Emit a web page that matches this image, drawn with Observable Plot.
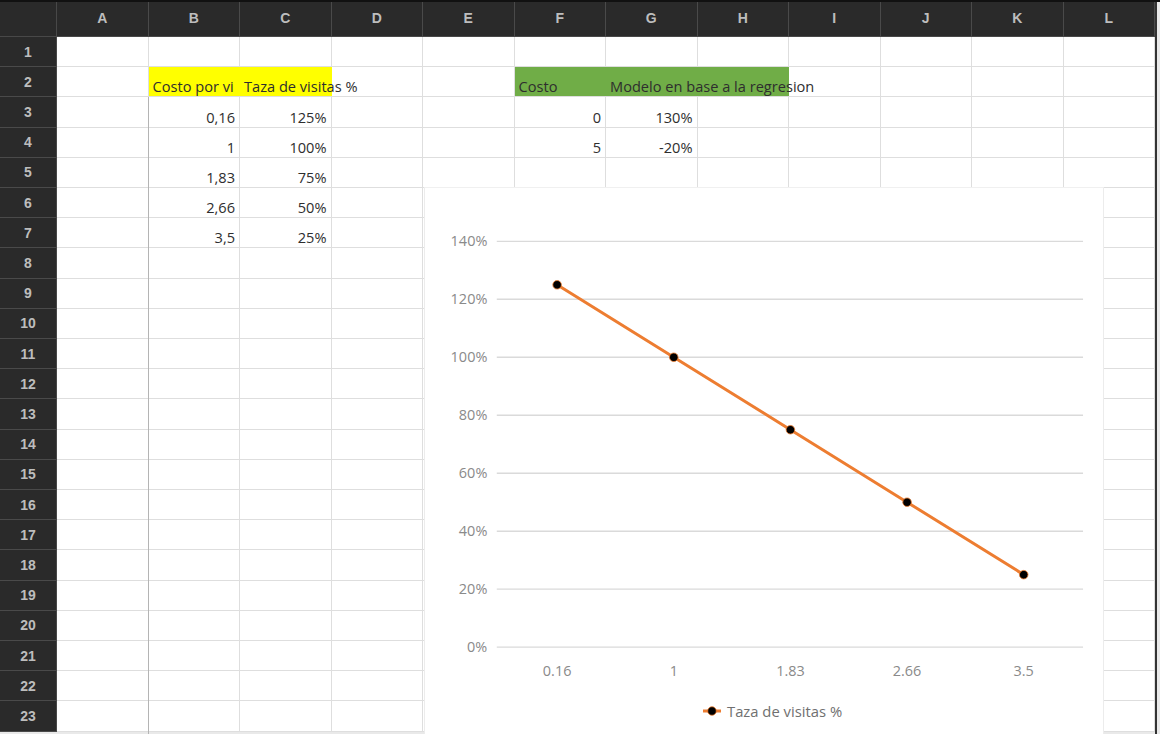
<!DOCTYPE html>
<html><head><meta charset="utf-8">
<script src="https://cdn.jsdelivr.net/npm/d3@7"></script>
<script src="https://cdn.jsdelivr.net/npm/@observablehq/plot@0.6"></script>
<style>
html,body{margin:0;padding:0;background:#fff;}
#sheet{position:relative;width:1160px;height:734px;overflow:hidden;font-family:"Open Sans",sans-serif;background:#e9e9e9;}
.hdr{position:absolute;background:#2a2a2a;color:#bdbdbd;font-family:"Liberation Sans",Arial,sans-serif;font-weight:bold;font-size:14px;display:flex;align-items:center;justify-content:center;box-sizing:border-box;}
.cell{position:absolute;box-sizing:border-box;background:#fff;border-right:1px solid #dedede;border-bottom:1px solid #dedede;}
.txt{position:absolute;font-size:14.6px;color:#2e2e2e;white-space:nowrap;display:flex;align-items:flex-end;box-sizing:border-box;padding-bottom:1px;}
#chart{position:absolute;left:424px;top:187px;width:680px;height:547px;background:#fff;border-left:1px solid #ececec;border-top:1px solid #f0f0f0;border-right:1px solid #ececec;box-sizing:border-box;}
#legend{position:absolute;left:276px;top:513px;height:20px;display:flex;align-items:center;font-size:14.8px;color:#707070;font-family:"Open Sans",sans-serif;}
</style></head><body><div id="sheet"></div>
<script>
// ---- data ----
const columnLetters = ["A","B","C","D","E","F","G","H","I","J","K","L"];
const rowNumbers = d3.range(1, 24);
const tablaHeaders = ["Costo por vi", "Taza de visitas %"];
const costoPorVisita = ["0,16", "1", "1,83", "2,66", "3,5"];
const tazaVisitasTexto = ["125%", "100%", "75%", "50%", "25%"];
const modeloHeaders = ["Costo", "Modelo en base a la regresion"];
const modeloCosto = ["0", "5"];
const modeloValor = ["130%", "-20%"];
const chartCategories = ["0.16", "1", "1.83", "2.66", "3.5"];
const chartValues = [1.25, 1.00, 0.75, 0.50, 0.25];
const seriesName = "Taza de visitas %";
const yTicks = [0, 0.2, 0.4, 0.6, 0.8, 1.0, 1.2, 1.4];

// ---- sheet layout ----
const sheet = document.getElementById("sheet");
const X0 = 57, CW = 91.5, H0 = 37, RH = 30.2;
const colL = i => X0 + i * CW;
const rowT = r => H0 + (r - 1) * RH;
function el(cls, css, text) {
  const d = document.createElement("div");
  d.className = cls;
  Object.assign(d.style, css);
  if (text != null) d.textContent = text;
  sheet.appendChild(d);
  return d;
}
// grid cells
rowNumbers.forEach(r => columnLetters.forEach((c, i) => {
  el("cell", {left: colL(i) + "px", top: rowT(r) + "px", width: CW + "px", height: RH + "px"});
}));
// fills
el("cell", {left: colL(1) + "px", top: rowT(2) + "px", width: 2 * CW + "px", height: (RH - 1) + "px", background: "#ffff00", border: "none"});
el("cell", {left: colL(5) + "px", top: rowT(2) + "px", width: 3 * CW + "px", height: (RH - 1) + "px", background: "#70ad47", border: "none"});
// darker border left of B
el("cell", {left: (colL(1) - 1) + "px", top: rowT(3) + "px", width: "1.5px", height: (734 - rowT(3)) + "px", background: "#b4b4b4", border: "none"});
// headers
el("hdr", {left: "0px", top: "0px", width: X0 + "px", height: H0 + "px", borderRight: "1px solid #484848", borderBottom: "1px solid #484848"});
columnLetters.forEach((c, i) => el("hdr", {left: colL(i) + "px", top: "0px", width: CW + "px", height: H0 + "px", borderRight: "1px solid #4a4a4a", borderBottom: "1px solid #484848"}, c));
rowNumbers.forEach(r => el("hdr", {left: "0px", top: rowT(r) + "px", width: X0 + "px", height: RH + "px", borderBottom: "1px solid #4a4a4a", borderRight: "1px solid #484848"}, String(r)));
el("hdr", {left: "1155px", top: "0px", width: "2px", height: "734px", background: "#333"});
el("hdr", {left: "0px", top: "0px", width: "1160px", height: "2px", background: "#111"});

// cell text helpers
function leftText(col, row, text) {
  el("txt", {left: (colL(col) + 4) + "px", top: rowT(row) + "px", height: RH + "px"}, text);
}
function rightText(col, row, text) {
  el("txt", {left: colL(col) + "px", top: rowT(row) + "px", height: RH + "px", width: (CW - 5) + "px", justifyContent: "flex-end"}, text);
}
leftText(1, 2, tablaHeaders[0]);
leftText(2, 2, tablaHeaders[1]);
costoPorVisita.forEach((v, i) => rightText(1, 3 + i, v));
tazaVisitasTexto.forEach((v, i) => rightText(2, 3 + i, v));
leftText(5, 2, modeloHeaders[0]);
leftText(6, 2, modeloHeaders[1]);
modeloCosto.forEach((v, i) => rightText(5, 3 + i, v));
modeloValor.forEach((v, i) => rightText(6, 3 + i, v));

// ---- chart ----
const chart = document.createElement("div");
chart.id = "chart";
sheet.appendChild(chart);
const data = chartCategories.map((c, i) => ({cat: c, val: chartValues[i]}));
const plot = Plot.plot({
  width: 680, height: 500,
  marginTop: 54, marginBottom: 39, marginLeft: 73, marginRight: 19,
  style: {fontFamily: "Open Sans, sans-serif", fontSize: "14.5px", color: "#8a8a8a", background: "transparent", overflow: "visible"},
  x: {type: "point", domain: chartCategories, padding: 0.5, label: null},
  y: {domain: [0, 1.4], label: null},
  marks: [
    Plot.gridY(yTicks, {stroke: "#dadada", strokeOpacity: 1, strokeWidth: 1.4}),
    Plot.axisY(yTicks, {tickSize: 0, tickPadding: 10, tickFormat: d => Math.round(d * 100) + "%", label: null}),
    Plot.axisX({tickSize: 0, tickPadding: 19, label: null}),
    Plot.line(data, {x: "cat", y: "val", stroke: "#ED7D31", strokeWidth: 3}),
    Plot.dot(data, {x: "cat", y: "val", r: 4.3, fill: "#000", stroke: "#ED7D31", strokeWidth: 0.8})
  ]
});
plot.style.position = "absolute";
plot.style.left = "-1px";
plot.style.top = "-1px";
chart.appendChild(plot);

const legend = document.createElement("div");
legend.id = "legend";
legend.innerHTML = `<svg width="24" height="14" style="margin-right:2px"><line x1="2" x2="20" y1="7" y2="7" stroke="#ED7D31" stroke-width="3"/><circle cx="11" cy="7" r="4.3" fill="#000" stroke="#ED7D31" stroke-width="0.8"/></svg><span>${seriesName}</span>`;
chart.appendChild(legend);
</script></body></html>
